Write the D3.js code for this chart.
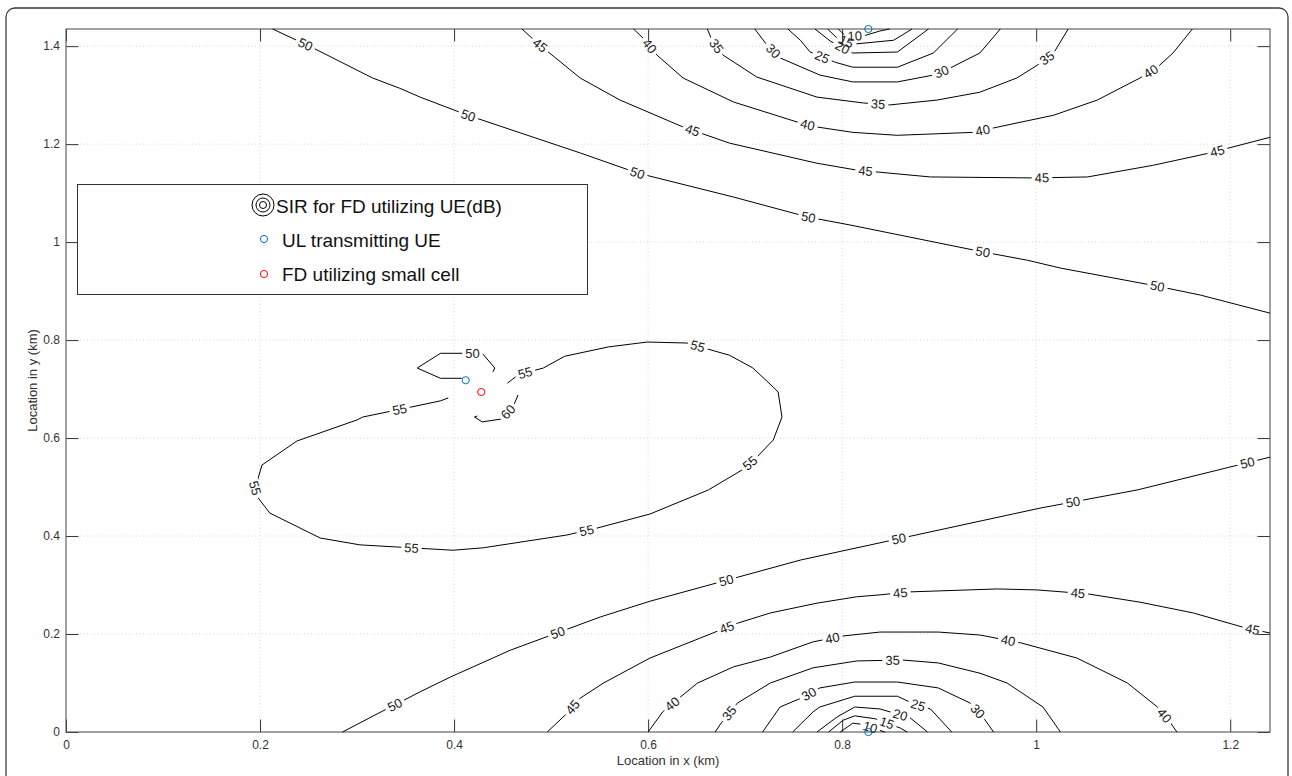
<!DOCTYPE html>
<html>
<head>
<meta charset="utf-8">
<script src="https://cdn.jsdelivr.net/npm/d3@7"></script>
<style>
  body { margin: 0; background: #fff; }
  text { font-family: "Liberation Sans", Arial, Helvetica, sans-serif; }
</style>
</head>
<body>
<div id="chart"></div>
<script>
// axis extents and ticks (km)
const xMax = 1.241, yMax = 1.435;
const xTicks = [0, 0.2, 0.4, 0.6, 0.8, 1, 1.2];
const yTicks = [0, 0.2, 0.4, 0.6, 0.8, 1, 1.2, 1.4];

// contour lines, [x km, y km]
const c50top = [[0.213,1.435],[0.255,1.396],[0.316,1.335],[0.344,1.314],[0.365,1.296],[0.414,1.259],[0.530,1.182],[0.589,1.141],[0.688,1.092],[0.765,1.051],[0.808,1.035],[0.945,0.980],[0.991,0.963],[1.025,0.947],[1.125,0.910],[1.169,0.892],[1.241,0.855]];
const c45top = [[0.470,1.435],[0.486,1.406],[0.530,1.335],[0.571,1.290],[0.636,1.235],[0.684,1.202],[0.774,1.161],[0.815,1.147],[0.891,1.133],[0.997,1.131],[1.053,1.133],[1.121,1.157],[1.179,1.182],[1.241,1.214]];
const c40top = [[0.585,1.435],[0.595,1.416],[0.609,1.382],[0.636,1.335],[0.688,1.286],[0.757,1.243],[0.774,1.235],[0.811,1.224],[0.857,1.218],[0.935,1.224],[0.956,1.233],[1.018,1.259],[1.063,1.290],[1.107,1.335],[1.125,1.357],[1.141,1.386],[1.161,1.435]];
const c35top = [[0.661,1.435],[0.666,1.412],[0.677,1.382],[0.712,1.337],[0.774,1.296],[0.822,1.284],[0.849,1.280],[0.898,1.290],[0.942,1.306],[0.980,1.335],[1.001,1.361],[1.018,1.386],[1.033,1.435]];
const c30top = [[0.710,1.435],[0.721,1.406],[0.736,1.376],[0.770,1.347],[0.777,1.341],[0.811,1.327],[0.857,1.327],[0.894,1.341],[0.911,1.355],[0.942,1.386],[0.963,1.435]];
const c25top = [[0.744,1.435],[0.757,1.412],[0.767,1.388],[0.793,1.367],[0.811,1.357],[0.857,1.357],[0.894,1.386],[0.919,1.435]];
const c20top = [[0.772,1.435],[0.788,1.410],[0.811,1.386],[0.857,1.388],[0.889,1.435]];
const c15top = [[0.785,1.435],[0.794,1.418],[0.811,1.404],[0.853,1.412],[0.872,1.435]];
const c10top = [[0.796,1.435],[0.804,1.420],[0.824,1.422],[0.839,1.431],[0.849,1.435]];

const c50bot = [[0.285,0],[0.313,0.029],[0.365,0.082],[0.396,0.112],[0.458,0.167],[0.551,0.235],[0.602,0.267],[0.757,0.351],[0.976,0.445],[1.004,0.457],[1.104,0.494],[1.241,0.561]];
const c45bot = [[0.496,0],[0.518,0.041],[0.530,0.069],[0.554,0.100],[0.602,0.151],[0.654,0.192],[0.692,0.222],[0.726,0.243],[0.774,0.263],[0.815,0.276],[0.839,0.280],[0.870,0.286],[0.960,0.292],[1.001,0.290],[1.053,0.282],[1.107,0.265],[1.162,0.243],[1.213,0.214],[1.241,0.202]];
const c40bot = [[0.600,0],[0.615,0.041],[0.633,0.071],[0.651,0.100],[0.688,0.133],[0.726,0.153],[0.770,0.184],[0.801,0.196],[0.839,0.204],[0.899,0.204],[0.942,0.198],[0.984,0.182],[1.042,0.151],[1.094,0.100],[1.125,0.051],[1.138,0.020],[1.145,0]];
const c35bot = [[0.669,0],[0.676,0.020],[0.692,0.059],[0.726,0.100],[0.770,0.131],[0.815,0.145],[0.862,0.147],[0.899,0.141],[0.942,0.120],[0.970,0.100],[1.007,0.051],[1.025,0]];
const c30bot = [[0.718,0],[0.736,0.051],[0.760,0.071],[0.777,0.090],[0.813,0.102],[0.857,0.102],[0.899,0.090],[0.932,0.059],[0.945,0.031],[0.956,0]];
const c25bot = [[0.749,0],[0.770,0.041],[0.777,0.051],[0.813,0.073],[0.857,0.073],[0.872,0.059],[0.891,0.047],[0.913,0]];
const c20bot = [[0.774,0],[0.795,0.031],[0.813,0.051],[0.839,0.047],[0.870,0.029],[0.888,0]];
const c15bot = [[0.786,0],[0.801,0.024],[0.813,0.033],[0.834,0.027],[0.860,0.008],[0.867,0]];
const c10bot = [[0.798,0],[0.811,0.018],[0.819,0.016],[0.844,0]];

const c55mid = [[0.455,0.712],[0.466,0.729],[0.492,0.743],[0.514,0.767],[0.559,0.786],[0.599,0.796],[0.640,0.794],[0.661,0.782],[0.684,0.769],[0.708,0.743],[0.729,0.704],[0.734,0.694],[0.738,0.643],[0.729,0.596],[0.712,0.561],[0.697,0.535],[0.662,0.494],[0.602,0.445],[0.547,0.416],[0.516,0.402],[0.430,0.376],[0.399,0.371],[0.303,0.382],[0.262,0.396],[0.210,0.447],[0.198,0.478],[0.195,0.498],[0.198,0.518],[0.202,0.545],[0.238,0.594],[0.300,0.637],[0.306,0.643],[0.355,0.663],[0.386,0.676],[0.394,0.682]];
const c60mid = [[0.466,0.688],[0.461,0.665],[0.449,0.639],[0.429,0.633],[0.421,0.643],[0.424,0.645]];
const c50mid = [[0.440,0.735],[0.442,0.743],[0.429,0.773],[0.386,0.773],[0.362,0.743],[0.386,0.722],[0.408,0.722]];

// inline label spots [x km, y km]
const lab50top = [[0.246,1.400],[0.414,1.255],[0.589,1.141],[0.765,1.049],[0.945,0.980],[1.125,0.910]];
const lab45top = [[0.487,1.398],[0.645,1.224],[0.824,1.143],[1.006,1.131],[1.187,1.184]];
const lab40top = [[0.599,1.396],[0.764,1.237],[0.945,1.227],[1.118,1.349]];
const lab35top = [[0.669,1.398],[0.837,1.280],[1.011,1.376]];
const lab30top = [[0.728,1.388],[0.903,1.345]];
const lab25top = [[0.779,1.376]];
const lab20top = [[0.800,1.396]];
const lab15top = [[0.804,1.408]];
const lab10top = [[0.813,1.418]];
const lab50bot = [[0.339,0.055],[0.507,0.202],[0.680,0.314],[0.858,0.398],[1.038,0.469],[1.218,0.547]];
const lab45bot = [[0.522,0.051],[0.681,0.214],[0.860,0.284],[1.043,0.282],[1.223,0.210]];
const lab40bot = [[0.625,0.057],[0.790,0.192],[0.971,0.186],[1.133,0.035]];
const lab35bot = [[0.682,0.041],[0.852,0.145]];
const lab30bot = [[0.765,0.080],[0.939,0.041]];
const lab25bot = [[0.878,0.053]];
const lab20bot = [[0.860,0.035]];
const lab15bot = [[0.846,0.018]];
const lab10bot = [[0.829,0.010]];
const lab55mid = [[0.473,0.735],[0.651,0.786],[0.705,0.549],[0.537,0.408],[0.356,0.371],[0.193,0.498],[0.344,0.657]];
const lab60mid = [[0.458,0.649]];
const lab50mid = [[0.419,0.771]];

// device positions
const ulUE = [[0.827,1.435],[0.827,0],[0.412,0.718]];
const fdCell = [[0.428,0.694]];

const contours = [
  {level:50, pts:c50top, labels:lab50top}, {level:45, pts:c45top, labels:lab45top},
  {level:40, pts:c40top, labels:lab40top}, {level:35, pts:c35top, labels:lab35top},
  {level:30, pts:c30top, labels:lab30top}, {level:25, pts:c25top, labels:lab25top},
  {level:20, pts:c20top, labels:lab20top}, {level:15, pts:c15top, labels:lab15top},
  {level:10, pts:c10top, labels:lab10top},
  {level:50, pts:c50bot, labels:lab50bot}, {level:45, pts:c45bot, labels:lab45bot},
  {level:40, pts:c40bot, labels:lab40bot}, {level:35, pts:c35bot, labels:lab35bot},
  {level:30, pts:c30bot, labels:lab30bot}, {level:25, pts:c25bot, labels:lab25bot},
  {level:20, pts:c20bot, labels:lab20bot}, {level:15, pts:c15bot, labels:lab15bot},
  {level:10, pts:c10bot, labels:lab10bot},
  {level:55, pts:c55mid, labels:lab55mid}, {level:60, pts:c60mid, labels:lab60mid},
  {level:50, pts:c50mid, labels:lab50mid}
];

const W = 1292, H = 776;
const m = {left: 66, right: 22, top: 29, bottom: 44};
const svg = d3.select("#chart").append("svg").attr("width", W).attr("height", H);

// figure frame
svg.append("rect").attr("x", 6).attr("y", 8).attr("width", 1282).attr("height", 790)
  .attr("rx", 9).attr("fill", "none").attr("stroke", "#3a3a3a").attr("stroke-width", 1.3);

const x = d3.scaleLinear().domain([0, xMax]).range([m.left, W - m.right]);
const y = d3.scaleLinear().domain([0, yMax]).range([H - m.bottom, m.top]);
const fmt = d => String(+d.toFixed(1));

// grid
const grid = svg.append("g").attr("stroke", "#d6d6d6").attr("stroke-dasharray", "1,2.5");
grid.selectAll(".gx").data(xTicks.filter(d => d > 0)).join("line")
  .attr("x1", d => x(d)).attr("x2", d => x(d)).attr("y1", y(0)).attr("y2", y(yMax));
grid.selectAll(".gy").data(yTicks.filter(d => d > 0)).join("line")
  .attr("y1", d => y(d)).attr("y2", d => y(d)).attr("x1", x(0)).attr("x2", x(xMax));

// axes (ticks inside, MATLAB style)
const tk = -12.5;
function styleAxis(g) {
  g.select(".domain").remove();
  g.selectAll(".tick line").attr("stroke", "#333");
  g.selectAll(".tick text").attr("fill", "#333").attr("font-size", 12);
}
svg.append("g").attr("transform", `translate(0,${y(0)})`)
  .call(d3.axisBottom(x).tickValues(xTicks).tickFormat(fmt).tickSizeInner(tk).tickSizeOuter(0).tickPadding(8)).call(styleAxis);
svg.append("g").attr("transform", `translate(0,${y(yMax)})`)
  .call(d3.axisTop(x).tickValues(xTicks).tickFormat("").tickSizeInner(tk).tickSizeOuter(0)).call(styleAxis);
svg.append("g").attr("transform", `translate(${x(0)},0)`)
  .call(d3.axisLeft(y).tickValues(yTicks).tickFormat(fmt).tickSizeInner(tk).tickSizeOuter(0).tickPadding(6)).call(styleAxis);
svg.append("g").attr("transform", `translate(${x(xMax)},0)`)
  .call(d3.axisRight(y).tickValues(yTicks).tickFormat("").tickSizeInner(tk).tickSizeOuter(0)).call(styleAxis);

svg.append("rect").attr("x", x(0)).attr("y", y(yMax)).attr("width", x(xMax) - x(0)).attr("height", y(0) - y(yMax))
  .attr("fill", "none").attr("stroke", "#555").attr("stroke-width", 1.1);

svg.append("text").attr("x", (x(0) + x(xMax)) / 2).attr("y", 765).attr("text-anchor", "middle")
  .attr("font-size", 13).attr("fill", "#333").text("Location in x (km)");
svg.append("text").attr("transform", `translate(37,${(y(0) + y(yMax)) / 2}) rotate(-90)`).attr("text-anchor", "middle")
  .attr("font-size", 13).attr("fill", "#333").text("Location in y (km)");

// contour labels: place on nearest segment, rotated along the line
const labelInfo = [];
contours.forEach(c => {
  const p = c.pts.map(d => [x(d[0]), y(d[1])]);
  c.labels.forEach(l => {
    const q = [x(l[0]), y(l[1])];
    let best = null;
    for (let i = 0; i < p.length - 1; i++) {
      const a = p[i], b = p[i + 1];
      const dx = b[0] - a[0], dy = b[1] - a[1];
      const len2 = dx * dx + dy * dy || 1;
      let t = ((q[0] - a[0]) * dx + (q[1] - a[1]) * dy) / len2;
      t = Math.max(0, Math.min(1, t));
      const px = a[0] + t * dx, py = a[1] + t * dy;
      const dist = (px - q[0]) ** 2 + (py - q[1]) ** 2;
      if (!best || dist < best.dist) best = {dist, px, py, ang: Math.atan2(dy, dx) * 180 / Math.PI};
    }
    let ang = best.ang;
    if (ang > 90) ang -= 180;
    if (ang < -90) ang += 180;
    labelInfo.push({x: best.px, y: best.py, ang, text: String(c.level)});
  });
});

const defs = svg.append("defs");
const mask = defs.append("mask").attr("id", "labelGap").attr("maskUnits", "userSpaceOnUse")
  .attr("x", 0).attr("y", 0).attr("width", W).attr("height", H);
mask.append("rect").attr("width", W).attr("height", H).attr("fill", "white");

const line = d3.line().x(d => x(d[0])).y(d => y(d[1]));
svg.append("g").attr("mask", "url(#labelGap)")
  .selectAll("path").data(contours).join("path")
  .attr("d", d => line(d.pts)).attr("fill", "none").attr("stroke", "#000").attr("stroke-width", 1);

const labs = svg.append("g").selectAll("text").data(labelInfo).join("text")
  .attr("transform", d => `translate(${d.x},${d.y}) rotate(${d.ang})`)
  .attr("text-anchor", "middle").attr("dy", "0.35em").attr("font-size", 13).attr("fill", "#1a1a1a")
  .text(d => d.text);
labs.each(function(d) {
  const w = this.getComputedTextLength() + 6;
  mask.append("rect").attr("x", -w / 2).attr("y", -5).attr("width", w).attr("height", 10)
    .attr("transform", `translate(${d.x},${d.y}) rotate(${d.ang})`).attr("fill", "black");
});

// devices
svg.append("g").selectAll("circle").data(ulUE).join("circle")
  .attr("cx", d => x(d[0])).attr("cy", d => y(d[1])).attr("r", 3.6)
  .attr("fill", "none").attr("stroke", "#0072BD").attr("stroke-width", 1);
svg.append("g").selectAll("circle").data(fdCell).join("circle")
  .attr("cx", d => x(d[0])).attr("cy", d => y(d[1])).attr("r", 3.6)
  .attr("fill", "none").attr("stroke", "#FF0000").attr("stroke-width", 1);

// legend
const lg = svg.append("g");
lg.append("rect").attr("x", 77.5).attr("y", 184.5).attr("width", 510).attr("height", 110)
  .attr("fill", "#fff").attr("stroke", "#333").attr("stroke-width", 1);
[11, 7, 3.5].forEach(r => lg.append("circle").attr("cx", 263).attr("cy", 205).attr("r", r)
  .attr("fill", "none").attr("stroke", "#000").attr("stroke-width", 1));
lg.append("circle").attr("cx", 264).attr("cy", 239).attr("r", 3.6).attr("fill", "none").attr("stroke", "#0072BD");
lg.append("circle").attr("cx", 264).attr("cy", 274).attr("r", 3.6).attr("fill", "none").attr("stroke", "#FF0000");
const legendText = [["SIR for FD utilizing UE(dB)", 276, 206], ["UL transmitting UE", 282, 240], ["FD utilizing small cell", 282, 274]];
lg.selectAll("text.lt").data(legendText).join("text").attr("class", "lt")
  .attr("x", d => d[1]).attr("y", d => d[2]).attr("dy", "0.35em").attr("font-size", 19).attr("fill", "#111")
  .text(d => d[0]);
</script>
</body>
</html>
